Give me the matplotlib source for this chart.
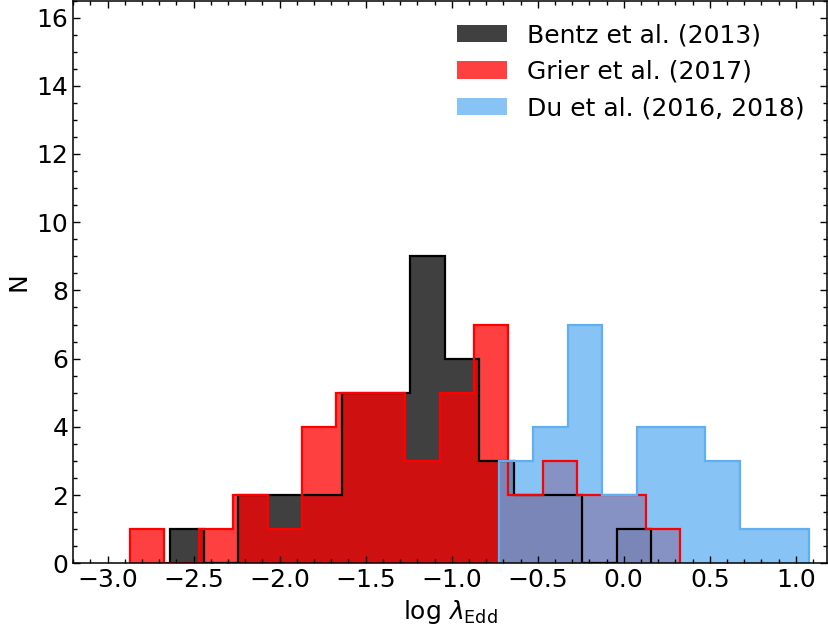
import numpy as np
import matplotlib
matplotlib.use('Agg')
import matplotlib.pyplot as plt
from matplotlib.ticker import MultipleLocator

# histogram counts per 0.2 dex bin
bin_width = 0.2

bentz_lo = -2.64
bentz_counts = [1, 0, 2, 2, 2, 5, 5, 9, 6, 3, 2, 2, 0, 1]

grier_lo = -2.87
grier_counts = [1, 0, 1, 2, 1, 4, 5, 5, 3, 5, 7, 2, 3, 2, 2, 1]

du_lo = -0.725
du_counts = [3, 4, 7, 2, 4, 4, 3, 1, 1]

labels = ['Bentz et al. (2013)', 'Grier et al. (2017)', 'Du et al. (2016, 2018)']
colors = ['black', 'red', '#5FAFF1']


def edges(lo, counts):
	return lo + bin_width*np.arange(len(counts)+1)


fig = plt.figure(figsize=(8.29, 6.32), dpi=100)
ax = fig.add_axes([0.0884, 0.1087, 0.9088, 0.8905])

sets = [(bentz_lo, bentz_counts), (grier_lo, grier_counts), (du_lo, du_counts)]

# filled first, outlines on top
for (lo, cnt), c, lab in zip(sets, colors, labels):
	ax.stairs(cnt, edges(lo, cnt), fill=True, color=c, alpha=0.75, lw=0, label=lab)
for (lo, cnt), c in zip(sets, colors):
	ax.stairs(cnt, edges(lo, cnt), color=c, lw=1.6)

ax.set_xlim(-3.2, 1.18)
ax.set_ylim(0, 16.5)
ax.xaxis.set_major_locator(MultipleLocator(0.5))
ax.xaxis.set_minor_locator(MultipleLocator(0.1))
ax.yaxis.set_major_locator(MultipleLocator(2))
ax.yaxis.set_minor_locator(MultipleLocator(0.5))
ax.tick_params(which='both', direction='in', top=True, right=True, labelsize=18)
ax.tick_params(which='major', length=5, width=1)
ax.tick_params(which='minor', length=3, width=1)
for s in ax.spines.values():
	s.set_linewidth(1.1)

ax.set_xlabel(r'log $\lambda_{\rm Edd}$', fontsize=18)
ax.set_ylabel('N', fontsize=18)
ax.legend(loc='upper right', frameon=False, fontsize=18)

fig.savefig('out.png', dpi=100)
